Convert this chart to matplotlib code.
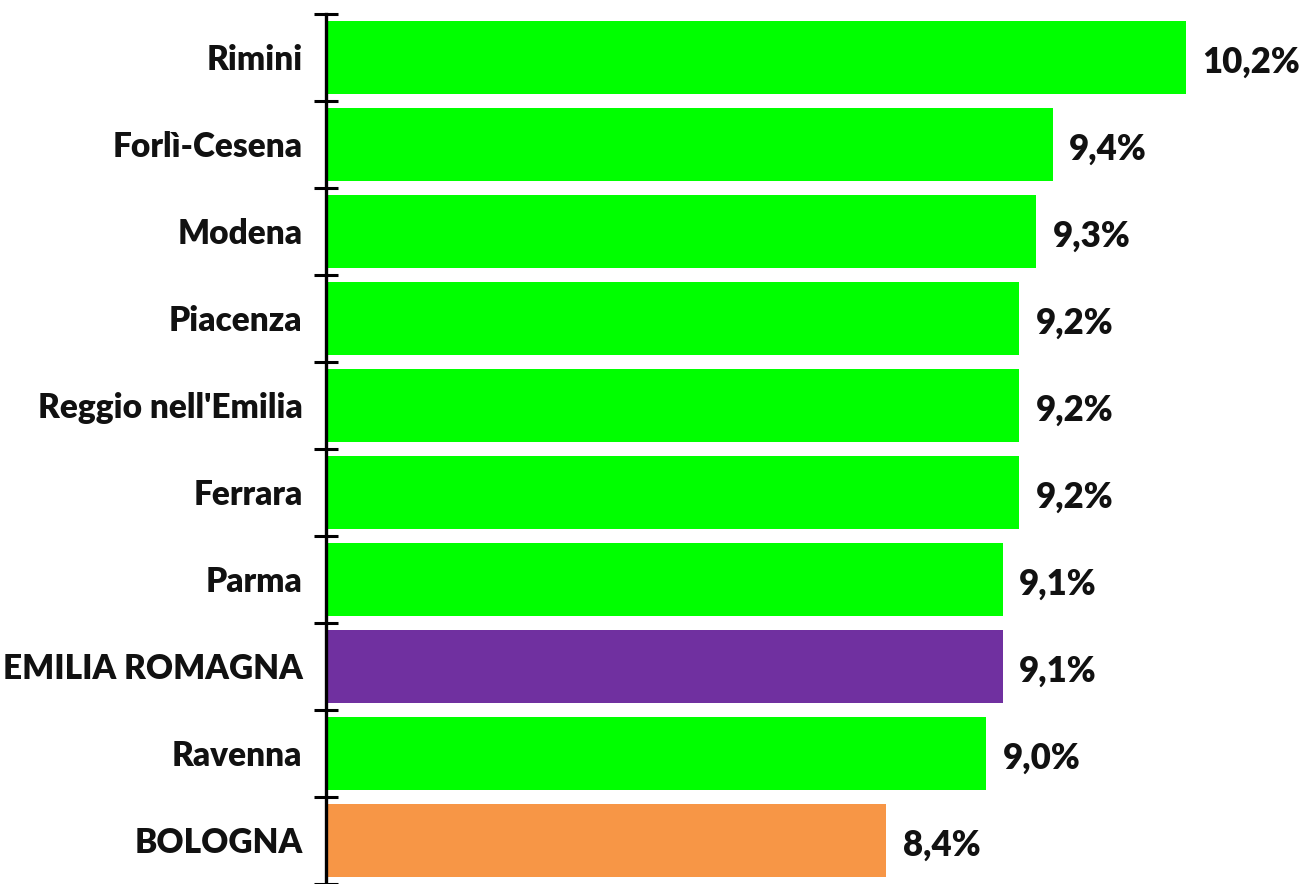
import numpy as np
import matplotlib.pyplot as plt

provinces = ["Rimini", "Forlì-Cesena", "Modena", "Piacenza", "Reggio nell'Emilia",
             "Ferrara", "Parma", "EMILIA ROMAGNA", "Ravenna", "BOLOGNA"]
values = [10.2, 9.4, 9.3, 9.2, 9.2, 9.2, 9.1, 9.1, 9.0, 8.4]
labels = ["10,2%", "9,4%", "9,3%", "9,2%", "9,2%", "9,2%", "9,1%", "9,1%", "9,0%", "8,4%"]

GREEN = "#00FF00"
colors = [GREEN] * len(provinces)
colors[provinces.index("EMILIA ROMAGNA")] = "#7030A0"
colors[provinces.index("BOLOGNA")] = "#F79646"

plt.rcParams['font.family'] = ['Lato', 'DejaVu Sans']
plt.rcParams['font.weight'] = 'bold'

fig = plt.figure(figsize=(13.06, 8.84), dpi=100)
ax = fig.add_axes([326 / 1306, 0, 1 - 326 / 1306, 1 - 14 / 884])

xmin = 5.04
y = np.arange(len(provinces))
ax.barh(y, np.array(values) - xmin, left=xmin, height=0.84, color=colors)

for yi, v, lab in zip(y, values, labels):
    ax.text(v + 0.1, yi + 0.05, lab, va="center", ha="left",
            fontsize=25, fontweight="heavy", color="#111111")

ax.set_xlim(xmin, 10.92)
ax.set_ylim(len(provinces) - 0.5, -0.5)

ax.set_yticks(y)
ax.set_yticklabels(provinces, fontsize=24, fontweight="heavy", color="#111111")
ax.tick_params(axis="y", which="major", length=0, pad=17)
ax.set_yticks(np.arange(-0.5, len(provinces), 1), minor=True)
ax.tick_params(axis="y", which="minor", direction="inout", length=17, width=2.2, color="black")

ax.set_xticks([])
for side in ["top", "right", "bottom"]:
    ax.spines[side].set_visible(False)
ax.spines["left"].set_linewidth(2.4)

fig.savefig("out.png", dpi=100)
